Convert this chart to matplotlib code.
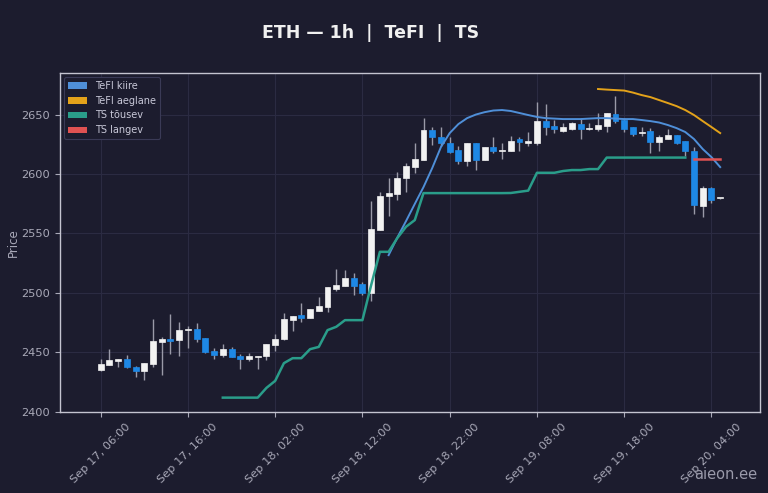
import matplotlib
matplotlib.use("Agg")
import matplotlib.pyplot as plt
from matplotlib.patches import Rectangle, Patch
import numpy as np

# hourly candles, Sep 17 06:00 -> Sep 20 05:00
opens = [2434.9, 2439.1, 2442.5, 2444.2, 2437.5, 2434.1, 2440.0, 2458.5, 2461.0, 2460.2,
         2468.6, 2469.4, 2461.9, 2450.9, 2447.6, 2452.6, 2446.7, 2444.2, 2445.9, 2446.7,
         2456.0, 2461.0, 2477.0, 2481.2, 2478.7, 2484.6, 2488.0, 2503.1, 2505.6, 2512.4,
         2507.3, 2499.8, 2552.8, 2581.4, 2583.1, 2596.6, 2605.8, 2611.7, 2637.0, 2631.1,
         2626.0, 2620.1, 2610.9, 2626.0, 2611.7, 2622.7, 2619.3, 2619.3, 2629.4, 2626.0,
         2626.0, 2644.5, 2640.3, 2636.1, 2637.8, 2642.0, 2637.8, 2637.8, 2640.3, 2650.4,
         2645.4, 2639.5, 2634.4, 2636.1, 2626.9, 2629.4, 2632.8, 2627.7, 2619.3, 2573.0,
         2588.1, 2579.7]
highs = [2444.2, 2452.6, 2444.2, 2447.6, 2438.3, 2440.8, 2477.9, 2462.7, 2482.1, 2475.3,
         2472.0, 2474.5, 2461.9, 2453.5, 2456.8, 2454.0, 2448.4, 2449.2, 2446.7, 2456.8,
         2465.2, 2482.9, 2480.4, 2491.3, 2486.3, 2496.4, 2504.8, 2520.0, 2519.1, 2516.6,
         2509.0, 2577.2, 2584.8, 2596.6, 2601.6, 2609.2, 2626.0, 2647.1, 2639.5, 2639.5,
         2631.1, 2623.5, 2626.0, 2626.0, 2622.7, 2631.1, 2626.0, 2631.9, 2631.1, 2635.3,
         2660.5, 2658.9, 2645.4, 2642.9, 2643.7, 2647.1, 2642.9, 2651.3, 2651.3, 2665.6,
         2647.1, 2639.5, 2639.5, 2638.7, 2632.8, 2637.8, 2632.8, 2627.7, 2622.7, 2589.8,
         2589.0, 2580.2]
lows = [2434.1, 2439.1, 2437.5, 2436.6, 2429.0, 2426.5, 2437.5, 2430.7, 2448.4, 2446.7,
        2453.5, 2458.5, 2449.2, 2444.2, 2445.9, 2445.9, 2435.8, 2442.5, 2435.8, 2443.4,
        2450.9, 2460.2, 2467.8, 2475.3, 2478.7, 2484.6, 2483.8, 2501.4, 2505.6, 2498.1,
        2498.1, 2493.0, 2552.8, 2564.6, 2578.0, 2584.8, 2600.8, 2611.7, 2624.3, 2623.5,
        2617.6, 2608.3, 2606.7, 2603.3, 2611.7, 2617.6, 2612.6, 2619.3, 2619.3, 2623.5,
        2624.3, 2632.8, 2634.4, 2635.3, 2637.0, 2629.4, 2637.0, 2636.1, 2635.3, 2642.9,
        2635.3, 2631.9, 2631.9, 2617.6, 2619.3, 2629.4, 2625.2, 2615.1, 2566.3, 2563.7,
        2575.5, 2579.2]
closes = [2440.0, 2443.4, 2444.2, 2437.5, 2434.1, 2440.8, 2459.3, 2461.0, 2459.3, 2468.6,
          2469.4, 2461.0, 2450.1, 2447.6, 2452.6, 2445.9, 2444.2, 2446.7, 2446.7, 2456.8,
          2461.0, 2477.9, 2480.4, 2478.7, 2486.3, 2488.8, 2504.8, 2506.5, 2512.4, 2505.6,
          2499.8, 2553.6, 2581.4, 2583.9, 2596.6, 2606.7, 2612.6, 2637.0, 2631.1, 2626.0,
          2618.4, 2610.9, 2626.0, 2611.7, 2622.7, 2619.3, 2620.1, 2627.7, 2626.9, 2627.7,
          2644.5, 2639.5, 2637.8, 2639.5, 2642.9, 2637.8, 2638.7, 2641.2, 2651.3, 2644.5,
          2637.8, 2633.6, 2635.3, 2626.9, 2631.1, 2632.8, 2626.0, 2619.3, 2573.8, 2588.1,
          2578.0, 2579.7]

# TeFI fast line (starts at candle 33)
kiire_start = 33
tefi_kiire = [2531.7, 2546.5, 2560.4, 2574.8, 2589.0, 2605.0, 2622.7, 2634.4, 2642.0, 2647.0,
              2650.0, 2652.0, 2653.4, 2653.8, 2653.0, 2651.3, 2649.6, 2648.0, 2647.0, 2646.6,
              2646.2, 2646.2, 2646.2, 2646.6, 2647.0, 2647.0, 2646.6, 2646.2, 2646.2, 2645.4,
              2644.5, 2643.3, 2641.2, 2638.6, 2635.3, 2629.4, 2621.0, 2614.2, 2605.8]
# TeFI slow line (starts at candle 57)
aeglane_start = 57
tefi_aeglane = [2671.5, 2671.0, 2670.6, 2670.2, 2668.5, 2666.4, 2664.7, 2662.2, 2659.7, 2657.1,
                2653.8, 2649.6, 2644.5, 2639.5, 2634.4]
# trailing stop, rising (candles 14..67)
tousev_start = 14
ts_tousev = [2411.8, 2411.8, 2411.8, 2411.8, 2411.8, 2420.0, 2425.9, 2440.8, 2445.0, 2445.0,
             2452.6, 2454.5, 2468.6, 2471.4, 2477.0, 2477.0, 2477.0, 2506.5, 2534.5, 2534.5,
             2546.1, 2555.6, 2561.2, 2583.9, 2583.9, 2583.9, 2583.9, 2583.9, 2583.9, 2583.9,
             2583.9, 2583.9, 2583.9, 2584.0, 2585.0, 2586.0, 2601.0, 2601.0, 2601.0, 2602.5,
             2603.3, 2603.3, 2604.1, 2604.1, 2613.8, 2613.8, 2613.8, 2613.8, 2613.8, 2613.8,
             2613.8, 2613.8, 2613.8, 2613.8]
# trailing stop, falling (candles 68..71)
langev_start = 68
ts_langev = [2612.6, 2612.6, 2612.6, 2612.6]

tick_pos = [0, 10, 20, 30, 40, 50, 60, 70]
tick_labels = ["Sep 17, 06:00", "Sep 17, 16:00", "Sep 18, 02:00", "Sep 18, 12:00",
               "Sep 18, 22:00", "Sep 19, 08:00", "Sep 19, 18:00", "Sep 20, 04:00"]

BG = "#1c1c2e"
TXT = "#a9a9b8"
UP = "#f2f2f2"
DOWN = "#1e88e5"
C_KIIRE = "#4f8fd8"
C_AEGL = "#e3a21a"
C_TOUS = "#2a9d8a"
C_LANG = "#e05252"

fig = plt.figure(figsize=(7.68, 4.93), dpi=100, facecolor=BG)
ax = fig.add_axes([0.078, 0.165, 0.912, 0.687])
ax.set_facecolor(BG)

# candles
w = 0.68
for i in range(len(opens)):
    o, h, l, c = opens[i], highs[i], lows[i], closes[i]
    col = UP if c >= o else DOWN
    ax.vlines(i, l, h, color="#9a9aa8", lw=1.0, zorder=2)
    lo = min(o, c)
    hgt = max(abs(c - o), 0.6)
    ax.add_patch(Rectangle((i - w / 2, lo), w, hgt, facecolor=col, edgecolor=col,
                           lw=0.5, zorder=3))

ax.plot(np.arange(len(tefi_kiire)) + kiire_start, tefi_kiire, color=C_KIIRE, lw=1.4, zorder=4)
ax.plot(np.arange(len(tefi_aeglane)) + aeglane_start, tefi_aeglane, color=C_AEGL, lw=1.4, zorder=4)
ax.plot(np.arange(len(ts_tousev)) + tousev_start, ts_tousev, color=C_TOUS, lw=1.8, zorder=4)
ax.plot(np.arange(len(ts_langev)) + langev_start, ts_langev, color=C_LANG, lw=1.8, zorder=4)

ax.set_xlim(-4.67, 75.6)
ax.set_ylim(2400, 2685)
ax.set_yticks([2400, 2450, 2500, 2550, 2600, 2650])
ax.set_xticks(tick_pos)
ax.set_xticklabels(tick_labels, rotation=45)
ax.tick_params(colors=TXT, labelsize=8.2, length=3.5, width=0.8)
ax.grid(True, color="#2b2b42", lw=0.8)
ax.set_axisbelow(True)
for s in ax.spines.values():
    s.set_color("#c4c4d0")
    s.set_linewidth(1.0)
ax.set_ylabel("Price", color=TXT, fontsize=8.5, labelpad=1)

handles = [Patch(facecolor=C_KIIRE, label="TeFI kiire"),
           Patch(facecolor=C_AEGL, label="TeFI aeglane"),
           Patch(facecolor=C_TOUS, label="TS tõusev"),
           Patch(facecolor=C_LANG, label="TS langev")]
leg = ax.legend(handles=handles, loc="upper left", fontsize=7, facecolor=BG,
                edgecolor="#3a3a56", labelcolor="#c8c8d8", framealpha=1.0,
                borderaxespad=0.4, handlelength=2.0)
leg.get_frame().set_linewidth(0.8)

fig.text(0.483, 0.933, "ETH — 1h  |  TeFI  |  TS", color="#f0f0f0", fontsize=12.5,
         fontweight="bold", ha="center", va="center")
fig.text(0.986, 0.022, "aieon.ee", color="#9a9aaa", fontsize=10.5, ha="right", va="bottom")

fig.savefig("out.png", dpi=100, facecolor=BG)
